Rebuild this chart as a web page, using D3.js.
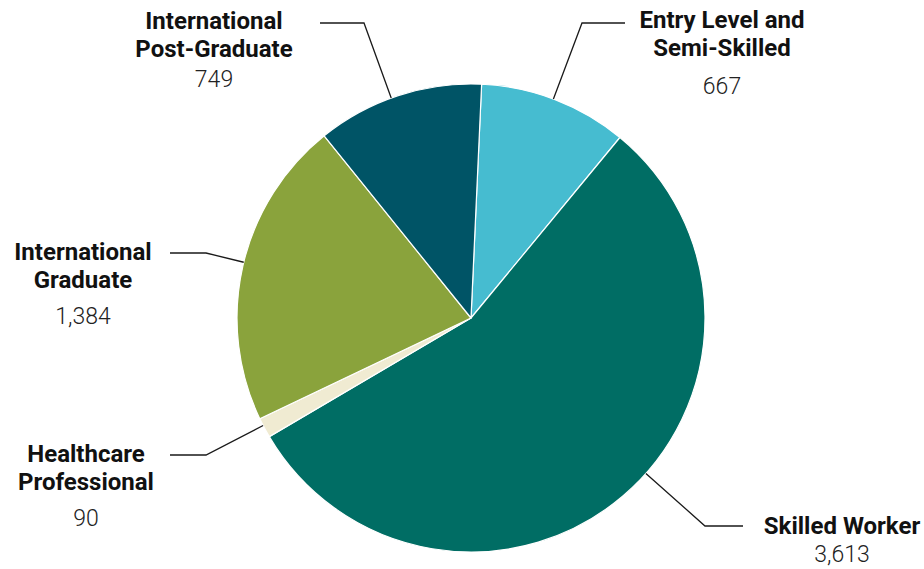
<!DOCTYPE html>
<html>
<head>
<meta charset="utf-8">
<script src="https://cdn.jsdelivr.net/npm/d3@7"></script>
<style>
  html, body { margin: 0; padding: 0; background: #ffffff; }
  svg { display: block; }
  .name { font-family: Roboto, "Noto Sans", sans-serif; font-weight: 700; font-size: 24px; fill: #111111; }
  .value { font-family: Roboto, "Noto Sans", sans-serif; font-weight: 300; font-size: 23px; fill: #222222; }
</style>
</head>
<body>
<svg id="chart" width="924" height="569"></svg>
<script>
// Visa categories, clockwise from the top
const categories = [
  "Entry Level and Semi-Skilled",
  "Skilled Worker",
  "Healthcare Professional",
  "International Graduate",
  "International Post-Graduate"
];
const values = [667, 3613, 90, 1384, 749];
const labelLines = [
  ["Entry Level and", "Semi-Skilled"],
  ["Skilled Worker"],
  ["Healthcare", "Professional"],
  ["International", "Graduate"],
  ["International", "Post-Graduate"]
];
const sliceColors = ["#46bcd0", "#006d64", "#f0ebd2", "#8aa33c", "#005466"];

// Label placement: text anchor, leader elbow and end of the horizontal leader run
const labelLayout = [
  { x: 722, y: 28,  valueY: 94,  elbow: [582, 23],  endX: 625 },
  { x: 842, y: 534, valueY: 562, elbow: [705, 526], endX: 743 },
  { x: 86,  y: 462, valueY: 526, elbow: [206, 455], endX: 170 },
  { x: 83,  y: 260, valueY: 324, elbow: [206, 253], endX: 170 },
  { x: 214, y: 29,  valueY: 87,  elbow: [364, 23],  endX: 320 }
];

const svg = d3.select("#chart");
const cx = 471, cy = 318, radius = 234;
const startOffset = 2.6 * Math.PI / 180;
const lineGap = 28;

const data = categories.map((c, i) => ({ category: c, value: values[i], lines: labelLines[i], color: sliceColors[i], layout: labelLayout[i] }));

const pie = d3.pie()
  .sort(null)
  .value(d => d.value)
  .startAngle(startOffset)
  .endAngle(startOffset + 2 * Math.PI);

const arc = d3.arc().innerRadius(0).outerRadius(radius);

const g = svg.append("g").attr("transform", `translate(${cx},${cy})`);

g.selectAll("path.slice")
  .data(pie(data))
  .join("path")
  .attr("class", "slice")
  .attr("d", arc)
  .attr("fill", d => d.data.color)
  .attr("stroke", "#ffffff")
  .attr("stroke-width", 1.2)
  .attr("stroke-linejoin", "round");

// Leader lines: radial from the pie rim to the elbow, then horizontal to the label
const leaders = svg.append("g");
data.forEach(d => {
  const L = d.layout;
  const dx = L.elbow[0] - cx, dy = L.elbow[1] - cy;
  const len = Math.hypot(dx, dy);
  const rim = [cx + dx / len * radius, cy + dy / len * radius];
  leaders.append("polyline")
    .attr("points", [rim, L.elbow, [L.endX, L.elbow[1]]].map(p => p.join(",")).join(" "))
    .attr("fill", "none")
    .attr("stroke", "#1a1a1a")
    .attr("stroke-width", 1.3);
});

const fmt = d3.format(",");
const labels = svg.append("g");
data.forEach(d => {
  const L = d.layout;
  d.lines.forEach((line, j) => {
    labels.append("text")
      .attr("class", "name")
      .attr("x", L.x)
      .attr("y", L.y + j * lineGap)
      .attr("text-anchor", "middle")
      .text(line);
  });
  labels.append("text")
    .attr("class", "value")
    .attr("x", L.x)
    .attr("y", L.valueY)
    .attr("text-anchor", "middle")
    .text(fmt(d.value));
});
</script>
</body>
</html>
